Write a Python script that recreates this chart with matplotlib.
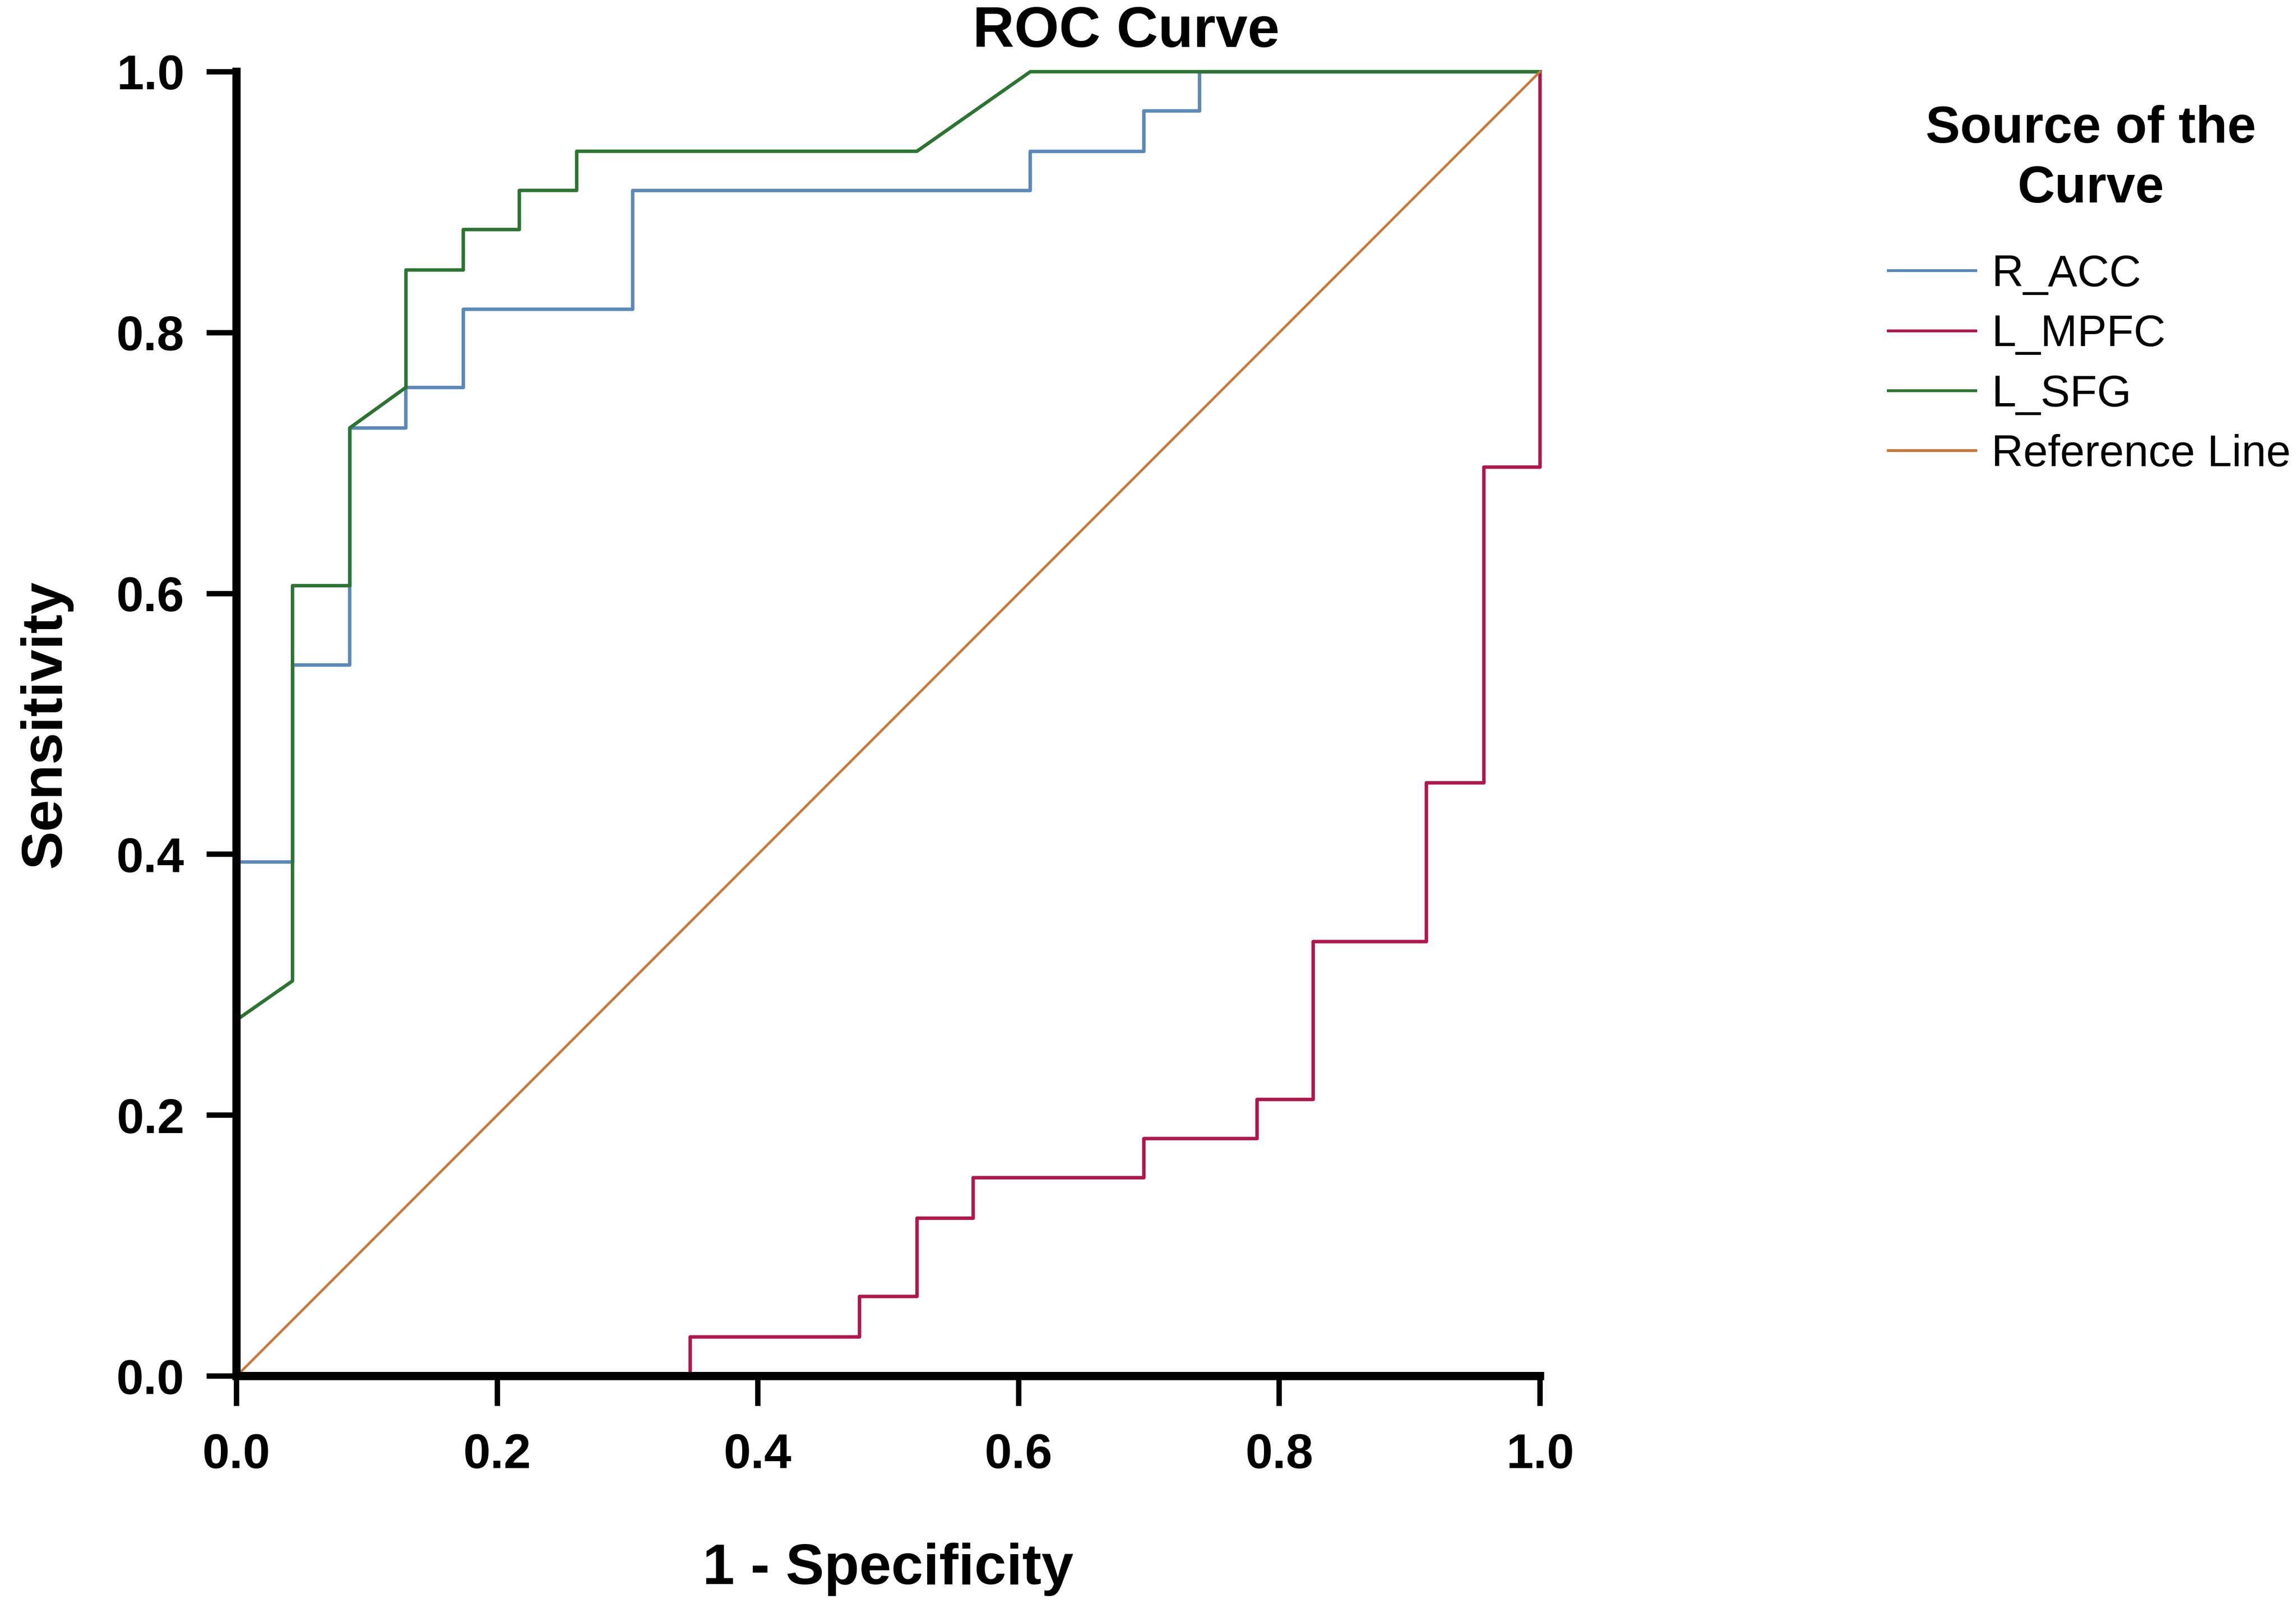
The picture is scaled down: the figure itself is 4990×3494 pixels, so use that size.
import matplotlib
matplotlib.use('Agg')
import matplotlib.pyplot as plt

# ROC vertices (1 - specificity, sensitivity)
acc_fpr = [0.0, 0.0, 0.043, 0.043, 0.087, 0.087, 0.130, 0.130, 0.174, 0.174,
           0.304, 0.304, 0.609, 0.609, 0.696, 0.696, 0.739, 0.739, 1.0]
acc_tpr = [0.0, 0.394, 0.394, 0.545, 0.545, 0.727, 0.727, 0.758, 0.758, 0.818,
           0.818, 0.909, 0.909, 0.939, 0.939, 0.970, 0.970, 1.0, 1.0]

mpfc_fpr = [0.0, 0.348, 0.348, 0.478, 0.478, 0.522, 0.522, 0.565, 0.565, 0.696,
            0.696, 0.783, 0.783, 0.826, 0.826, 0.913, 0.913, 0.957, 0.957, 1.0, 1.0]
mpfc_tpr = [0.0, 0.0, 0.030, 0.030, 0.061, 0.061, 0.121, 0.121, 0.152, 0.152,
            0.182, 0.182, 0.212, 0.212, 0.333, 0.333, 0.455, 0.455, 0.697, 0.697, 1.0]

sfg_fpr = [0.0, 0.0, 0.043, 0.043, 0.087, 0.087, 0.130, 0.130, 0.174, 0.174,
           0.217, 0.217, 0.261, 0.261, 0.522, 0.609, 1.0]
sfg_tpr = [0.0, 0.273, 0.303, 0.606, 0.606, 0.727, 0.758, 0.848, 0.848, 0.879,
           0.879, 0.909, 0.909, 0.939, 0.939, 1.0, 1.0]

ref_x = [0.0, 1.0]
ref_y = [0.0, 1.0]

labels = ['R_ACC', 'L_MPFC', 'L_SFG', 'Reference Line']
colors = ['#5a88b8', '#b0164a', '#2c7432', '#c8783c']
ticks = [0.0, 0.2, 0.4, 0.6, 0.8, 1.0]
tick_labels = ['0.0', '0.2', '0.4', '0.6', '0.8', '1.0']

SANS = ['Liberation Sans', 'DejaVu Sans']


def main():
    fig = plt.figure(figsize=(4990 / 300, 3494 / 300), dpi=300)
    ax = fig.add_axes([0.103, 0.1442, 0.5677, 0.8112])

    series = [(acc_fpr, acc_tpr), (mpfc_fpr, mpfc_tpr), (sfg_fpr, sfg_tpr), (ref_x, ref_y)]
    for (x, y), lab, col in zip(series, labels, colors):
        lw = 1.3 if lab == 'Reference Line' else 1.8
        ax.plot(x, y, color=col, linewidth=lw, label=lab, clip_on=False)

    ax.set_xlim(0, 1)
    ax.set_ylim(0, 1)
    for side in ['top', 'right']:
        ax.spines[side].set_visible(False)
    for side in ['left', 'bottom']:
        ax.spines[side].set_linewidth(4.3)
        ax.spines[side].set_capstyle('projecting')

    ax.set_xticks(ticks)
    ax.set_yticks(ticks)
    ax.set_xticklabels(tick_labels)
    ax.set_yticklabels(tick_labels)
    ax.tick_params(axis='both', direction='out', length=15.6, width=2.8)
    ax.tick_params(axis='x', pad=14)
    ax.tick_params(axis='y', pad=11.5)
    for t in ax.get_xticklabels() + ax.get_yticklabels():
        t.set_family(SANS)
        t.set_fontweight('bold')
        t.set_fontsize(25.5)

    ax.set_xlabel('1 - Specificity', family=SANS, fontweight='bold', fontsize=30, labelpad=33.5)
    ax.set_ylabel('Sensitivity', family=SANS, fontweight='bold', fontsize=30, labelpad=23)

    fig.text(0.4904, 1 - 70 / 3494, 'ROC Curve', family=SANS, fontweight='bold',
             fontsize=30, ha='center', va='center')

    # legend heading drawn separately so it can sit well above the entries
    fig.text(4544 / 4990, 1 - 346 / 3494, 'Source of the\nCurve', family=SANS,
             fontweight='bold', fontsize=27, ha='center', va='center',
             multialignment='center', linespacing=1.3)

    leg = ax.legend(loc='upper left', bbox_to_anchor=(4104 / 4990, 1 - 552 / 3494),
                    bbox_transform=fig.transFigure, frameon=False, borderpad=0,
                    borderaxespad=0, handlelength=1.98, handletextpad=0.36,
                    labelspacing=0.42, prop={'family': SANS, 'size': 23})
    for line in leg.get_lines():
        line.set_linewidth(1.5)

    fig.savefig('out.png', dpi=300)


main()
